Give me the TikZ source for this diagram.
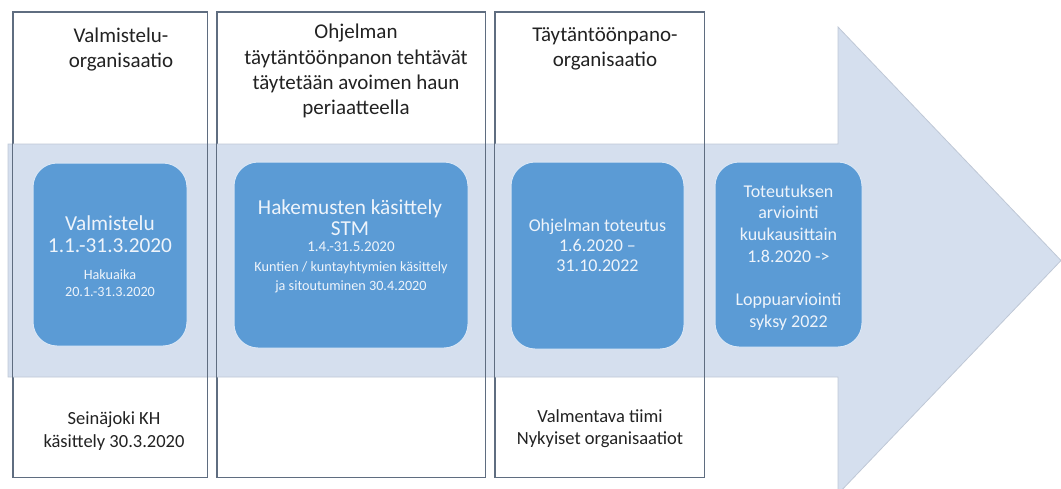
\documentclass[tikz,border=0pt]{standalone}
\usepackage{fontspec}
\setmainfont{Carlito}
\definecolor{bandfill}{HTML}{D5DFEE}
\definecolor{bandedge}{HTML}{BFC8D6}
\definecolor{colline}{HTML}{5F6D80}
\definecolor{boxblue}{HTML}{5B9BD5}
\definecolor{boxedge}{HTML}{D9E6F5}
\definecolor{boxtext}{HTML}{EEF4FB}
\definecolor{headtext}{HTML}{222222}
\tikzset{
  colbox/.style={fill=white, draw=colline, line width=1pt, inner sep=0pt},
  colframe/.style={draw=colline, line width=1pt},
  bluebox/.style={fill=boxblue, draw=boxedge, line width=1pt, rounded corners=24pt, inner sep=0pt},
  headlbl/.style={align=center, text=headtext, inner sep=0pt, font=\fontsize{21}{25.2}\selectfont},
  footlbl/.style={align=center, text=headtext, inner sep=0pt, font=\fontsize{18.5}{22.5}\selectfont},
  bigtxt/.style={align=center, text=boxtext, inner sep=0pt, font=\fontsize{21.3}{21.5}\selectfont},
  smalltxt/.style={align=center, text=boxtext, inner sep=0pt, font=\fontsize{14.2}{19.5}\selectfont},
  midtxt/.style={align=center, text=boxtext, inner sep=0pt, font=\fontsize{18}{21}\selectfont}
}
\begin{document}
\begin{tikzpicture}[x=1pt, y=-1pt]
\useasboundingbox (0,0) rectangle (1061,488);

% phase columns (white panels)
\node[colbox, minimum width=194pt, minimum height=465pt] (c1) at (110,244.5) {};
\node[colbox, minimum width=268pt, minimum height=465pt] (c2) at (351,244.5) {};
\node[colbox, minimum width=209pt, minimum height=465pt] (c3) at (599.5,244.5) {};

% the large timeline arrow
\filldraw[fill=bandfill, draw=bandedge, line width=0.8pt]
  (8,144) -- (838,144) -- (838,27) -- (1061,260.5) -- (838,494)
  -- (838,377) -- (8,377) -- cycle;

% column frames stay visible across the arrow band
\draw[colframe] (c1.north west) rectangle (c1.south east);
\draw[colframe] (c2.north west) rectangle (c2.south east);
\draw[colframe] (c3.north west) rectangle (c3.south east);

% column headings
\node[headlbl] (h1) at (121,49.5) {Valmistelu-\\organisaatio};
\node[headlbl] (h2) at (356,71) {Ohjelman\\täytäntöönpanon tehtävät\\täytetään avoimen haun\\periaatteella};
\node[headlbl] (h3) at (605,48.5) {Täytäntöönpano-\\organisaatio};

% column footers
\node[footlbl] (f1) at (114,431) {Seinäjoki KH\\käsittely 30.3.2020};
\node[footlbl] (f3) at (600,428.5) {Valmentava tiimi\\Nykyiset organisaatiot};

% phase boxes on the arrow
\node[bluebox, minimum width=154pt, minimum height=183pt] (b1) at (110,254.5) {};
\node[bluebox, minimum width=234pt, minimum height=186pt] (b2) at (351,255) {};
\node[bluebox, minimum width=173pt, minimum height=187pt] (b3) at (597.5,255.5) {};
\node[bluebox, minimum width=147pt, minimum height=185pt] (b4) at (788.5,254.5) {};

% phase box texts
\node[bigtxt] (t1a) at (110,234) {Valmistelu\\1.1.-31.3.2020};
\node[smalltxt, font=\fontsize{14.2}{16.5}\selectfont] (t1b) at (110,283) {Hakuaika\\20.1.-31.3.2020};
\node[bigtxt] (t2a) at (350,217.5) {Hakemusten käsittely\\STM};
\node[smalltxt, font=\fontsize{15}{19.5}\selectfont] (t2c) at (351,247) {1.4.-31.5.2020};
\node[smalltxt] (t2b) at (351,277.5) {Kuntien / kuntayhtymien käsittely\\ja sitoutuminen 30.4.2020};
\node[midtxt, font=\fontsize{18}{20}\selectfont] (t3) at (597.5,245) {Ohjelman toteutus\\1.6.2020 –\\31.10.2022};
\node[midtxt, font=\fontsize{18}{21.7}\selectfont] (t4) at (788.5,257.5) {Toteutuksen\\arviointi\\kuukausittain\\1.8.2020 ->\\[21.7pt]Loppuarviointi\\syksy 2022};
\end{tikzpicture}
\end{document}
